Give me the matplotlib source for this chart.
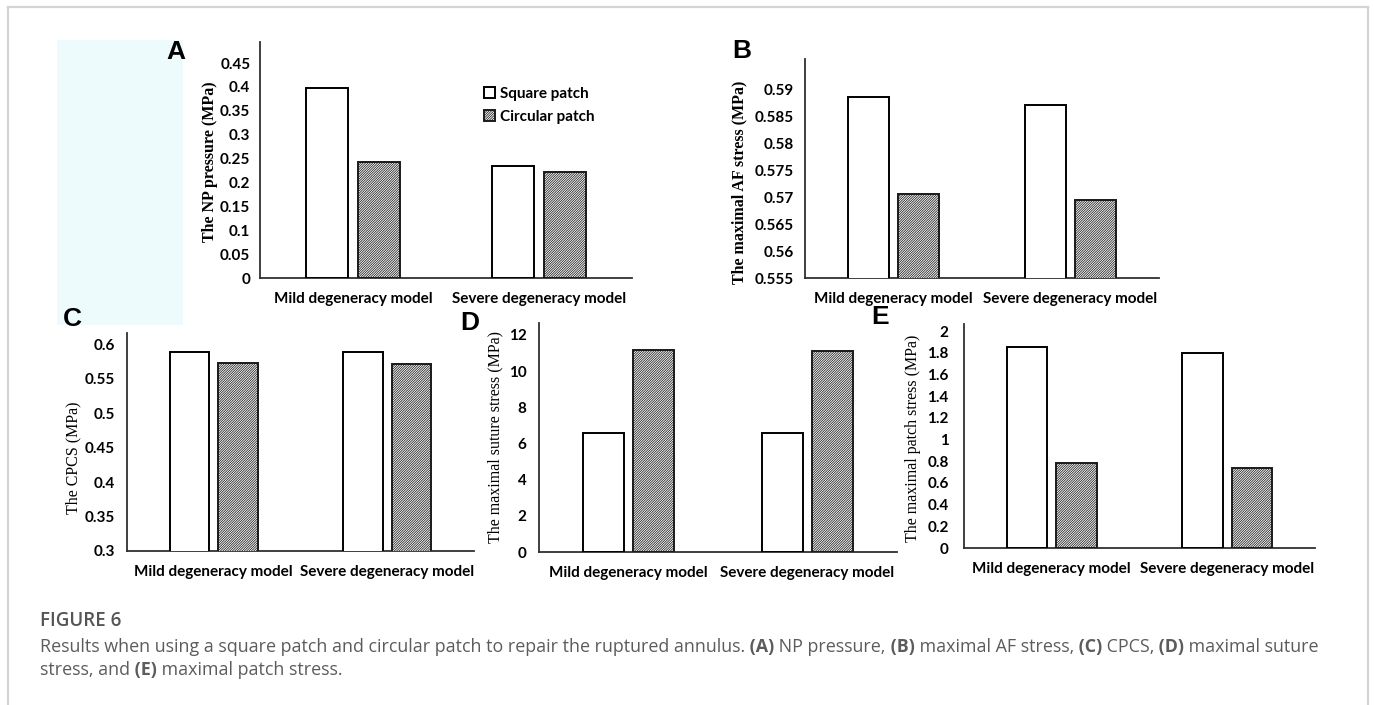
import matplotlib
matplotlib.use("Agg")
import matplotlib.pyplot as plt
from matplotlib.patches import Rectangle
from matplotlib.lines import Line2D

# ---- data -------------------------------------------------------------
categories = ["Mild degeneracy model", "Severe degeneracy model"]
series_names = ["Square patch", "Circular patch"]

np_pressure_square = [0.398, 0.234]
np_pressure_circular = [0.243, 0.221]
np_pressure_ticks = [0, 0.05, 0.1, 0.15, 0.2, 0.25, 0.3, 0.35, 0.4, 0.45]
np_pressure_ticklabels = ["0", "0.05", "0.1", "0.15", "0.2", "0.25", "0.3", "0.35", "0.4", "0.45"]

af_stress_square = [0.5885, 0.5870]
af_stress_circular = [0.5706, 0.5694]
af_stress_ticks = [0.555, 0.56, 0.565, 0.57, 0.575, 0.58, 0.585, 0.59]
af_stress_ticklabels = ["0.555", "0.56", "0.565", "0.57", "0.575", "0.58", "0.585", "0.59"]

cpcs_square = [0.589, 0.588]
cpcs_circular = [0.572, 0.571]
cpcs_ticks = [0.3, 0.35, 0.4, 0.45, 0.5, 0.55, 0.6]
cpcs_ticklabels = ["0.3", "0.35", "0.4", "0.45", "0.5", "0.55", "0.6"]

suture_square = [6.60, 6.58]
suture_circular = [11.15, 11.12]
suture_ticks = [0, 2, 4, 6, 8, 10, 12]
suture_ticklabels = ["0", "2", "4", "6", "8", "10", "12"]

patch_square = [1.85, 1.80]
patch_circular = [0.785, 0.735]
patch_ticks = [0, 0.2, 0.4, 0.6, 0.8, 1.0, 1.2, 1.4, 1.6, 1.8, 2.0]
patch_ticklabels = ["0", "0.2", "0.4", "0.6", "0.8", "1", "1.2", "1.4", "1.6", "1.8", "2"]

# ---- figure setup -----------------------------------------------------
W, H = 1375, 705
fig = plt.figure(figsize=(W / 100, H / 100), dpi=100)
fig.patch.set_facecolor("white")
plt.rcParams["hatch.linewidth"] = 0.55

SANS = ["Lato", "DejaVu Sans"]
SERIF = ["Liberation Serif", "DejaVu Serif"]
LETTER = ["Liberation Sans", "DejaVu Sans"]
CAPTION = ["Open Sans", "DejaVu Sans"]


def fx(px):
    return px / W


def fy(py):
    return 1 - py / H


def add_axes_px(left, top, right, bottom):
    return fig.add_axes([fx(left), fy(bottom), (right - left) / W, (bottom - top) / H])


# page frame and pale panel behind the first chart's label area
fig.add_artist(Line2D([fx(8), fx(1368)], [fy(7), fy(7)], color="#d4d4d4", lw=1.6))
fig.add_artist(Line2D([fx(8), fx(8)], [fy(7), 0], color="#d4d4d4", lw=1.6))
fig.add_artist(Line2D([fx(1368), fx(1368)], [fy(7), 0], color="#d4d4d4", lw=1.6))
fig.add_artist(Rectangle((fx(57), fy(325)), (183 - 57) / W, (325 - 40) / H,
                         transform=fig.transFigure, facecolor="#eefbfd",
                         edgecolor="none", zorder=0))

WIDTH = 0.23
OFFSET = 0.14
HATCH = "/" * 14


def bar_panel(box, square, circular, ylim, ticks, ticklabels, ypad):
    ax = add_axes_px(*box)
    ax.set_facecolor("none")
    x = list(range(len(categories)))
    b1 = ax.bar([i - OFFSET for i in x], square, WIDTH, bottom=0,
                color="white", edgecolor="black", linewidth=1.4, zorder=3)
    b2 = ax.bar([i + OFFSET for i in x], circular, WIDTH, bottom=0,
                color="white", edgecolor="#1a1a1a", linewidth=1.4,
                hatch=HATCH, zorder=3)
    ax.set_xlim(-0.5, 1.5)
    ax.set_ylim(*ylim)
    ax.set_yticks(ticks)
    ax.set_yticklabels(ticklabels)
    ax.set_xticks(x)
    ax.set_xticklabels(categories)
    for s in ("top", "right"):
        ax.spines[s].set_visible(False)
    for s in ("left", "bottom"):
        ax.spines[s].set_color("#303030")
        ax.spines[s].set_linewidth(1.3)
    ax.tick_params(axis="both", length=0)
    ax.tick_params(axis="y", pad=ypad)
    ax.tick_params(axis="x", pad=10)
    for lab in ax.get_xticklabels() + ax.get_yticklabels():
        lab.set_family(SANS)
        lab.set_weight("bold")
        lab.set_fontsize(11)
        lab.set_color("black")
    return ax, b1, b2


axA, sqA, ciA = bar_panel((260, 42, 632, 278), np_pressure_square, np_pressure_circular,
                          (0, 0.494), np_pressure_ticks, np_pressure_ticklabels, 7)
axB, _, _ = bar_panel((805, 59, 1159, 278), af_stress_square, af_stress_circular,
                      (0.555, 0.5956), af_stress_ticks, af_stress_ticklabels, 8)
axC, _, _ = bar_panel((127, 333, 474, 551), cpcs_square, cpcs_circular,
                      (0.3, 0.616), cpcs_ticks, cpcs_ticklabels, 9)
axD, _, _ = bar_panel((539, 323, 897, 552), suture_square, suture_circular,
                      (0, 12.66), suture_ticks, suture_ticklabels, 9)
axE, _, _ = bar_panel((964, 324, 1315, 548), patch_square, patch_circular,
                      (0, 2.065), patch_ticks, patch_ticklabels, 11)

# legend of the first chart
axA.legend([sqA, ciA], series_names, loc="upper left",
           bbox_to_anchor=(fx(484), fy(87)), bbox_transform=fig.transFigure,
           frameon=False, handlelength=0.7, handleheight=0.7, handletextpad=0.35,
           labelspacing=0.6, borderpad=0, borderaxespad=0,
           prop={"family": SANS, "weight": "bold", "size": 11})

# y-axis titles
ylabels = [
    ("The NP pressure (MPa)", 210, 162, "bold"),
    ("The maximal AF stress (MPa)", 739, 182, "bold"),
    ("The CPCS (MPa)", 73, 458, "normal"),
    ("The maximal suture stress (MPa)", 495, 437, "normal"),
    ("The maximal patch stress (MPa)", 913, 438, "normal"),
]
for text, x, y, w in ylabels:
    fig.text(fx(x), fy(y), text, rotation=90, ha="center", va="center",
             family=SERIF, weight=w, fontsize=11.5, color="black")

# panel letters
letters = [("A", 176, 52), ("B", 742, 51), ("C", 72, 319), ("D", 470, 323), ("E", 880, 317)]
for t, x, y in letters:
    fig.text(fx(x), fy(y), t, ha="center", va="center", family=LETTER,
             weight="bold", fontsize=19, color="black")

# caption
CAP_COLOR = "#5c5c5c"
CAP_X = 40
fig.text(fx(CAP_X), fy(621), "FIGURE 6", ha="left", va="center", family=CAPTION,
         fontsize=13.5, weight="semibold", color="#555555")

renderer = fig.canvas.get_renderer()


def rich_line(x, y, parts):
    for s, w in parts:
        t = fig.text(fx(x), fy(y), s, ha="left", va="center", family=CAPTION,
                     weight=w, fontsize=12.9, color=CAP_COLOR)
        x += t.get_window_extent(renderer=renderer).width


rich_line(CAP_X, 647, [
    ("Results when using a square patch and circular patch to repair the ruptured annulus.", "normal"),
    (" (A)", "bold"), (" NP pressure,", "normal"),
    (" (B)", "bold"), (" maximal AF stress,", "normal"),
    (" (C)", "bold"), (" CPCS,", "normal"),
    (" (D)", "bold"), (" maximal suture", "normal"),
])
rich_line(CAP_X, 670, [
    ("stress, and", "normal"), (" (E)", "bold"), (" maximal patch stress.", "normal"),
])

fig.savefig("out.png", dpi=100, facecolor="white")
